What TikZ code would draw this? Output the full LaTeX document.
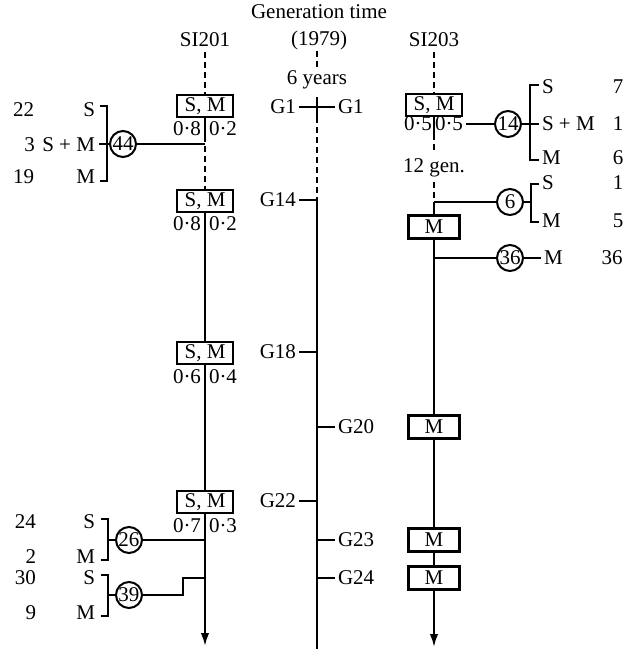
\documentclass[tikz,border=0pt]{standalone}
\usepackage{fontspec}
\setmainfont{Liberation Serif}
\usepackage{tikz}
\usetikzlibrary{arrows.meta, positioning, calc}

\begin{document}
\begin{tikzpicture}[x=0.5pt, y=-0.5pt, >={Latex[length=6.5pt, width=4.2pt]}, font=\fontsize{10.5}{12}\selectfont, line width=1pt]
    \tikzstyle{stage} = [rectangle, draw, line width=1.2pt, minimum width=28pt, minimum height=11pt, inner sep=1pt]
    \tikzstyle{mstage} = [stage, minimum width=25.5pt, minimum height=11.5pt]
    \tikzstyle{tally} = [circle, draw, line width=1pt, minimum size=13pt, inner sep=0pt]
    \tikzstyle{lbl} = [inner sep=0pt]
    \tikzstyle{gap} = [draw, dash pattern=on 3pt off 2pt]

    \useasboundingbox (0,0) rectangle (624,649);

    % headings
    \node [lbl] (gentime) at (319,12) {Generation time};
    \node [lbl] (year) at (319,40) {(1979)};
    \node [lbl] (si201) at (205,40) {SI201};
    \node [lbl] (si203) at (434,40) {SI203};

    % generation time axis
    \coordinate (gaxis) at (317,0);
    \node [lbl] (six) at (317,80) {6 years};
    \path [gap] (year.south -| gaxis) -- (six.north -| gaxis);
    \node [lbl, anchor=east] (g1l) at (297,107) {G1};
    \node [lbl, anchor=west] (g1r) at (337,107) {G1};
    \draw ([xshift=1pt]g1l.east) -- ([xshift=-1pt]g1r.west);
    \draw (317,97) -- (317,117);
    \path [gap] (317,117) -- (317,200);
    \draw (317,200) -- (317,649);
    \node [lbl, anchor=east] (g14) at (297,200) {G14};
    \node [lbl, anchor=east] (g18) at (297,352) {G18};
    \node [lbl, anchor=east] (g22) at (297,501) {G22};
    \node [lbl, anchor=west] (g20) at (337,427) {G20};
    \node [lbl, anchor=west] (g23) at (337,540) {G23};
    \node [lbl, anchor=west] (g24) at (337,578) {G24};
    \foreach \g in {g14, g18, g22}
        \draw ([xshift=1pt]\g.east) -- (\g.east -| gaxis);
    \foreach \g in {g20, g23, g24}
        \draw (\g.west -| gaxis) -- ([xshift=-1pt]\g.west);

    % SI201
    \node [stage] (a1) at (205,106) {S, M};
    \node [stage] (a2) at (205,201) {S, M};
    \node [stage] (a3) at (205,353) {S, M};
    \node [stage] (a4) at (205,502) {S, M};
    \node [lbl] (a1l) at (187,129) {0·8};
    \node [lbl] (a1r) at (223,129) {0·2};
    \node [lbl] (a2l) at (187,224) {0·8};
    \node [lbl] (a2r) at (223,224) {0·2};
    \node [lbl] (a3l) at (187,377) {0·6};
    \node [lbl] (a3r) at (223,377) {0·4};
    \node [lbl] (a4l) at (187,526) {0·7};
    \node [lbl] (a4r) at (223,526) {0·3};
    \path [gap] ([yshift=-2pt]si201.south) -- (a1.north);
    \draw (a1.south) -- ++(0,18) coordinate (a1s);
    \path [gap] (a1s) -- (a2.north);
    \draw (a2) -- (a3);
    \draw (a3) -- (a4);
    \draw [->] (a4.south) -- (205,646);

    % SI201 isolates
    \node [tally] (c44) at (123,144) {44};
    \coordinate (j44) at (205,144);
    \draw (c44.east) -- (j44);
    \node [lbl, anchor=east] (s44) at (96,110) {S};
    \node [lbl, anchor=east] (sm44) at (96,145) {S + M};
    \node [lbl, anchor=east] (m44) at (96,177) {M};
    \node [lbl, anchor=east] (n22) at (35,110) {22};
    \node [lbl, anchor=east] (n3) at (36,145) {3};
    \node [lbl, anchor=east] (n19) at (35,177) {19};
    \draw (100,106) -| (107,181) -- (100,181);
    \draw (99,144) -- (c44.west);

    \node [tally] (c26) at (129,540) {26};
    \coordinate (j26) at (205,540);
    \draw (c26.east) -- (j26);
    \node [lbl, anchor=east] (s26) at (96,522) {S};
    \node [lbl, anchor=east] (m26) at (96,557) {M};
    \node [lbl, anchor=east] (n24) at (37,522) {24};
    \node [lbl, anchor=east] (n2) at (37,557) {2};
    \draw (101,519) -| (108,560) -- (101,560);
    \draw (108,540) -- (c26.west);

    \node [tally] (c39) at (129,595) {39};
    \coordinate (j39) at (205,578);
    \draw (c39.east) -- ++(40,0) |- (j39);
    \node [lbl, anchor=east] (s39) at (96,578) {S};
    \node [lbl, anchor=east] (m39) at (96,613) {M};
    \node [lbl, anchor=east] (n30) at (37,578) {30};
    \node [lbl, anchor=east] (n9) at (37,613) {9};
    \draw (101,575) -| (108,616) -- (101,616);
    \draw (108,595) -- (c39.west);

    % SI203
    \node [stage] (b1) at (434,105) {S, M};
    \node [mstage] (b2) at (434,227) {M};
    \node [mstage] (b3) at (434,427) {M};
    \node [mstage] (b4) at (434,540) {M};
    \node [mstage] (b5) at (434,578) {M};
    \node [lbl] (b1l) at (418,124) {0·5};
    \node [lbl] (b1r) at (449,124) {0·5};
    \node [lbl] (gen12) at (434,168) {12 gen.};
    \path [gap] ([yshift=-2pt]si203.south) -- (b1.north);
    \draw (b1.south) -- ++(0,17) coordinate (b1s);
    \path [gap] (b1s) -- ([yshift=2pt]gen12.north);
    \coordinate (j6) at (434,202);
    \path [gap] ([yshift=-2pt]gen12.south) -- (j6);
    \draw (j6) -- (b2.north);
    \draw (b2) -- (b3);
    \draw (b3) -- (b4);
    \draw (b4) -- (b5);
    \draw [->] (b5.south) -- (434,647);

    % SI203 isolates
    \node [tally] (c14) at (508,124) {14};
    \draw ([xshift=1pt]b1r.east) -- (c14.west);
    \node [lbl, anchor=west] (s14) at (541,87) {S};
    \node [lbl, anchor=west] (sm14) at (541,124) {S + M};
    \node [lbl, anchor=west] (m14) at (541,158) {M};
    \node [lbl] (n7) at (618,87) {7};
    \node [lbl] (n1a) at (618,124) {1};
    \node [lbl] (n6) at (618,158) {6};
    \draw (539,85) -| (530,160) -- (539,160);
    \draw (c14.east) -- (539,124);

    \node [tally] (c6) at (510,202) {6};
    \draw (j6) -- (c6.west);
    \node [lbl, anchor=west] (s6) at (541,183) {S};
    \node [lbl, anchor=west] (m6) at (541,221) {M};
    \node [lbl] (n1b) at (618,183) {1};
    \node [lbl] (n5) at (618,221) {5};
    \draw (539,184) -| (531,222) -- (539,222);
    \draw (c6.east) -- (531,202);

    \node [tally] (c36) at (510,258) {36};
    \coordinate (j36) at (434,258);
    \draw (j36) -- (c36.west);
    \node [lbl, anchor=west] (m36) at (543,258) {M};
    \node [lbl] (n36) at (612,258) {36};
    \draw (c36.east) -- ([xshift=-1pt]m36.west);
\end{tikzpicture}
\end{document}
